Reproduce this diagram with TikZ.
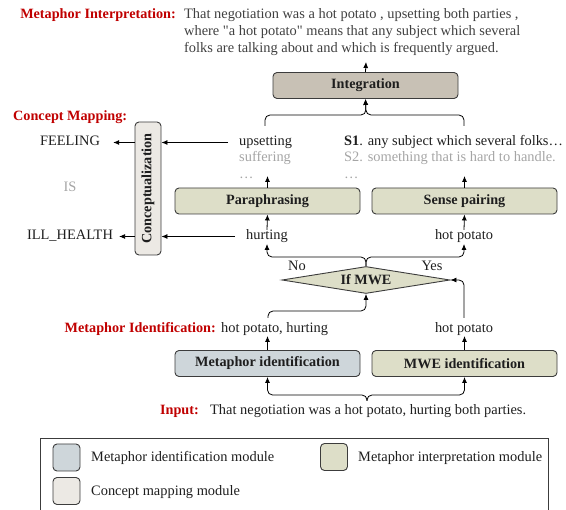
\documentclass[tikz,border=0pt]{standalone}
\usepackage{fontspec}
\setmainfont{Liberation Serif}[Ligatures=TeXOff]
\usetikzlibrary{arrows.meta,shapes.geometric}
\definecolor{myred}{RGB}{192,0,0}
\definecolor{intfill}{RGB}{200,193,181}
\definecolor{olfill}{RGB}{221,222,200}
\definecolor{mifill}{RGB}{206,214,218}
\definecolor{cmfill}{RGB}{236,233,228}
\definecolor{txt}{RGB}{30,30,30}
\definecolor{gtxt}{RGB}{165,165,165}
\definecolor{itxt}{RGB}{64,64,64}
\definecolor{edge}{RGB}{60,60,60}
\begin{document}
\begin{tikzpicture}[x=1pt,y=-1pt,
  font=\fontsize{14.4}{17}\selectfont,
  box/.style={draw=edge, line width=0.9pt, rounded corners=4pt, minimum height=26pt,
    minimum width=185pt, inner sep=0pt, font=\fontsize{14.2}{17}\selectfont\bfseries, text=txt},
  lbl/.style={inner sep=1pt, text=txt, text height=10pt, text depth=3pt},
  glbl/.style={lbl, text=gtxt},
  rlbl/.style={inner sep=1pt, text=myred, font=\fontsize{14.2}{17}\selectfont\bfseries},
  arr/.style={draw=black, line width=0.8pt, -{Latex[length=6pt,width=5pt]}},
  swatch/.style={draw=edge, line width=0.9pt, rounded corners=4pt, minimum width=27pt, minimum height=27pt, inner sep=0pt}
]
\useasboundingbox (0,0) rectangle (566,510);

% ---- top interpretation text
\node[rlbl, anchor=base east] (mitlbl) at (177,19) {Metaphor Interpretation:};
\node[inner sep=1pt, text=itxt, anchor=base west] (l1) at (183,19) {That negotiation was a hot potato , upsetting both parties ,};
\node[inner sep=1pt, text=itxt, anchor=base west] (l2) at (183,36) {where "a hot potato" means that any subject which several};
\node[inner sep=1pt, text=itxt, anchor=base west] (l3) at (183,53) {folks are talking about and which is frequently argued.};

% ---- boxes
\node[box, fill=intfill] (integ) at (365.5,85.5) {Integration};
\node[box, fill=olfill] (para) at (267.5,201) {Paraphrasing};
\node[box, fill=olfill] (sense) at (464.5,201) {Sense pairing};
\node[box, fill=mifill] (metid) at (267.5,363.5) {Metaphor identification};
\node[box, fill=olfill] (mweid) at (464.5,363.5) {MWE identification};
\node[box, fill=cmfill, minimum width=133pt, minimum height=26pt, rotate=90] (concept) at (148,188.5) {Conceptualization};
\node[draw=edge, line width=0.9pt, fill=olfill, shape=diamond, aspect=6.5, minimum width=168pt,
  minimum height=27pt, inner sep=0pt, font=\fontsize{14.2}{17}\selectfont\bfseries, text=txt] (dia) at (366,280) {If MWE};

% ---- texts
\node[rlbl, anchor=base west] (cmlbl) at (12,121) {Concept Mapping:};
\node[lbl, anchor=base] (feel) at (70,146) {FEELING};
\node[glbl, anchor=base] (is) at (70,192) {IS};
\node[lbl, anchor=base] (ill) at (70,240) {ILL\_HEALTH};

\node[lbl, anchor=base west] (ups) at (238,146) {upsetting};
\node[glbl, anchor=base west] (suf) at (238,162) {suffering};
\node[glbl, anchor=base west] (dots1) at (238,179) {\dots};
\node[lbl, anchor=base west] (s1) at (343,146) {\textbf{S1}. any subject which several folks\dots};
\node[glbl, anchor=base west] (s2) at (343,162) {S2. something that is hard to handle.};
\node[glbl, anchor=base west] (dots2) at (343,179) {\dots};

\node[lbl, anchor=base] (hurt) at (267,240) {hurting};
\node[lbl, anchor=base] (hp1) at (464,240) {hot potato};
\node[lbl, anchor=base] (no) at (297,271) {No};
\node[lbl, anchor=base] (yes) at (432,271) {Yes};

\node[rlbl, anchor=base east] (milbl) at (217,333) {Metaphor Identification:};
\node[lbl, anchor=base west] (mitxt) at (220,333) {hot potato, hurting};
\node[lbl, anchor=base] (hp2) at (464,333) {hot potato};

\node[rlbl, anchor=base east] (inlbl) at (200,415) {Input:};
\node[lbl, anchor=base west] (intxt) at (209,415) {That negotiation was a hot potato, hurting both parties.};

% ---- coordinates
\coordinate (intop) at (366,62);
\coordinate (braceT) at (366,115);
\coordinate (upsL) at (265,126);
\coordinate (s1R) at (464,126);
\coordinate (paraUp) at (267.5,176);
\coordinate (senseUp) at (464.5,176);
\coordinate (hurtTop) at (267,244);
\coordinate (hpTop) at (464,244);
\coordinate (braceD) at (366,257);
\coordinate (miBot) at (267.5,336);
\coordinate (mweBot) at (464.5,336);
\coordinate (miTop) at (268,318);
\coordinate (mweTop) at (464,318);
\coordinate (miJoin) at (366,311);
\coordinate (braceI) at (367,395);
\coordinate (inTip) at (367,401);

% ---- connectors
\draw[arr] (integ.north) -- (intop);
\draw[arr, rounded corners=5pt] (upsL) |- (braceT) -- (integ.south);
\draw[arr, rounded corners=5pt] (s1R) |- (braceT) -- (integ.south);
\draw[arr] (para.north) -- (paraUp);
\draw[arr] (sense.north) -- (senseUp);
\draw[arr] ([yshift=-1pt]hurt.north) -- (para.south);
\draw[arr] ([yshift=-1pt]hp1.north) -- (sense.south);
\draw[arr, rounded corners=5pt] (dia.north) -- (braceD) -| (hurtTop);
\draw[arr, rounded corners=5pt] (dia.north) -- (braceD) -| (hpTop);
\draw[arr] (metid.north) -- (miBot);
\draw[arr] (mweid.north) -- (mweBot);
\draw[arr, rounded corners=5pt] (miTop) |- (miJoin) -- (dia.south);
\draw[arr, rounded corners=5pt] (mweTop) |- (dia.east);
\draw[arr, rounded corners=5pt] (inTip) -- (braceI) -| (metid.south);
\draw[arr, rounded corners=5pt] (inTip) -- (braceI) -| (mweid.south);

\draw[arr] ([xshift=-10pt]ups.west) -- (concept.south |- ups.west);
\draw[arr] ([xshift=-10pt]hurt.west) -- (concept.south |- hurt.west);
\draw[arr] (concept.north |- ups.west) -- ([xshift=12pt]feel.east |- ups.west);
\draw[arr] (concept.north |- hurt.west) -- ([xshift=5pt]ill.east |- hurt.west);

% ---- legend
\draw[draw=edge, line width=0.9pt] (40,515) -- (40,438) -- (548,438) -- (548,515);
\node[swatch, fill=mifill] (sw1) at (66.5,457.5) {};
\node[swatch, fill=cmfill] (sw2) at (66.5,491) {};
\node[swatch, fill=olfill] (sw3) at (334,457) {};
\node[lbl, anchor=base west] (lg1) at (90,462) {Metaphor identification module};
\node[lbl, anchor=base west] (lg2) at (90,496) {Concept mapping module};
\node[lbl, anchor=base west] (lg3) at (357,462) {Metaphor interpretation module};
\end{tikzpicture}
\end{document}
